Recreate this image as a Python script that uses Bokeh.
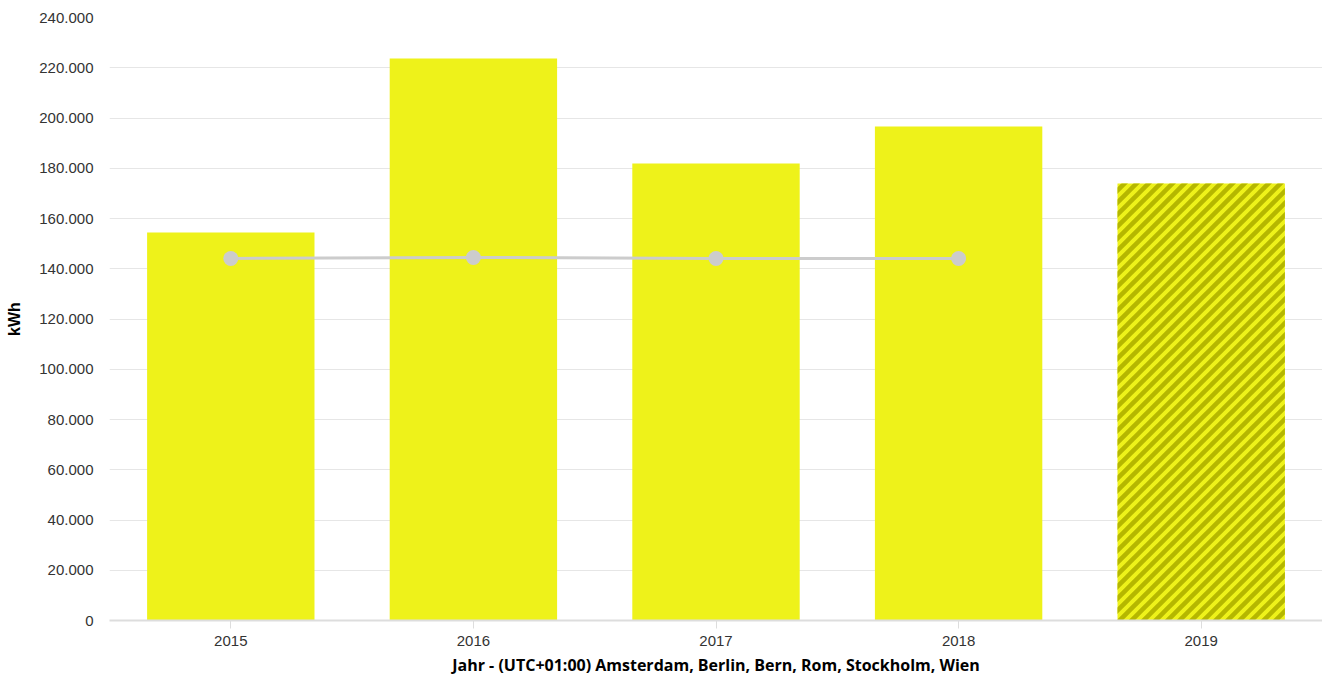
import base64
from bokeh.plotting import figure
from bokeh.models import FactorRange, Range1d, CustomJSTickFormatter, ImageURLTexture
from bokeh.core.properties import value
from bokeh.embed import file_html
from bokeh.resources import INLINE

years = ["2015", "2016", "2017", "2018", "2019"]
consumption = [154400, 223700, 181900, 196600, 173900]
hatched = [False, False, False, False, True]
avg_years = ["2015", "2016", "2017", "2018"]
avg_values = [144100, 144500, 144100, 144100]
y_ticks = [0, 20000, 40000, 60000, 80000, 100000, 120000, 140000, 160000, 180000, 200000, 220000, 240000]

YELLOW = "#eef21a"
HATCH = "#b5b700"

tile_svg = ("<svg xmlns='http://www.w3.org/2000/svg' width='12' height='12' viewBox='0 0 12 12'>"
            "<path d='M-16,16 L4,-4 M-4,16 L16,-4 M8,16 L28,-4' stroke='%s' stroke-width='4.5' fill='none'/>"
            "</svg>") % HATCH
tile_url = "data:image/svg+xml;base64," + base64.b64encode(tile_svg.encode()).decode()
stripes = ImageURLTexture(url=tile_url, repetition="repeat")

p = figure(x_range=FactorRange(*years, range_padding=0), y_range=Range1d(0, 240000),
           frame_width=1213, frame_height=603, output_backend="svg", toolbar_location=None,
           min_border_left=109, min_border_right=0, min_border_top=17, min_border_bottom=60,
           background_fill_color="white", border_fill_color="white")
p.outline_line_color = None

solid_x = [y for y, h in zip(years, hatched) if not h]
solid_v = [v for v, h in zip(consumption, hatched) if not h]
hatch_x = [y for y, h in zip(years, hatched) if h]
hatch_v = [v for v, h in zip(consumption, hatched) if h]

p.vbar(x=solid_x, top=solid_v, width=0.69, fill_color=YELLOW, line_color=None)
p.vbar(x=hatch_x, top=hatch_v, width=0.69, fill_color=YELLOW, line_color=None,
       hatch_pattern=value("stripes"), hatch_extra={"stripes": stripes},
       hatch_color=HATCH, hatch_scale=12, hatch_weight=4.5, hatch_alpha=0.9)

p.line(x=avg_years, y=avg_values, line_color="#cccccc", line_width=3)
p.scatter(x=avg_years, y=avg_values, size=15, fill_color="#cccccc", line_color=None)

# grid
p.xgrid.grid_line_color = None
p.ygrid.grid_line_color = "#e6e6e6"
p.ygrid.grid_line_width = 1
p.yaxis.ticker = y_ticks

# y axis
p.yaxis.axis_line_color = None
p.yaxis.major_tick_line_color = None
p.yaxis.minor_tick_line_color = None
p.yaxis.formatter = CustomJSTickFormatter(code="return Math.round(tick).toString().replace(/\\B(?=(\\d{3})+(?!\\d))/g, '.');")
p.yaxis.major_label_text_font = "Liberation Sans"
p.yaxis.major_label_text_font_size = "15px"
p.yaxis.major_label_text_color = "#333333"
p.yaxis.major_label_standoff = 10
p.yaxis.axis_label = "kWh"
p.yaxis.axis_label_text_font = "Liberation Sans"
p.yaxis.axis_label_text_font_style = "bold"
p.yaxis.axis_label_text_font_size = "16px"
p.yaxis.axis_label_text_color = "#000000"
p.yaxis.axis_label_standoff = 13

# x axis
p.xaxis.axis_line_color = "#dddddd"
p.xaxis.axis_line_width = 2
p.xaxis.major_tick_line_color = "#dddddd"
p.xaxis.major_tick_out = 8
p.xaxis.major_tick_in = 0
p.xaxis.minor_tick_line_color = None
p.xaxis.major_label_text_font = "Liberation Sans"
p.xaxis.major_label_text_font_size = "15px"
p.xaxis.major_label_text_color = "#333333"
p.xaxis.major_label_standoff = 7
p.xaxis.axis_label = "Jahr - (UTC+01:00) Amsterdam, Berlin, Bern, Rom, Stockholm, Wien"
p.xaxis.axis_label_text_font = "Open Sans"
p.xaxis.axis_label_text_font_style = "bold"
p.xaxis.axis_label_text_font_size = "16px"
p.xaxis.axis_label_text_color = "#000000"
p.xaxis.axis_label_standoff = 5

open("out.html", "w").write(file_html(p, INLINE))
